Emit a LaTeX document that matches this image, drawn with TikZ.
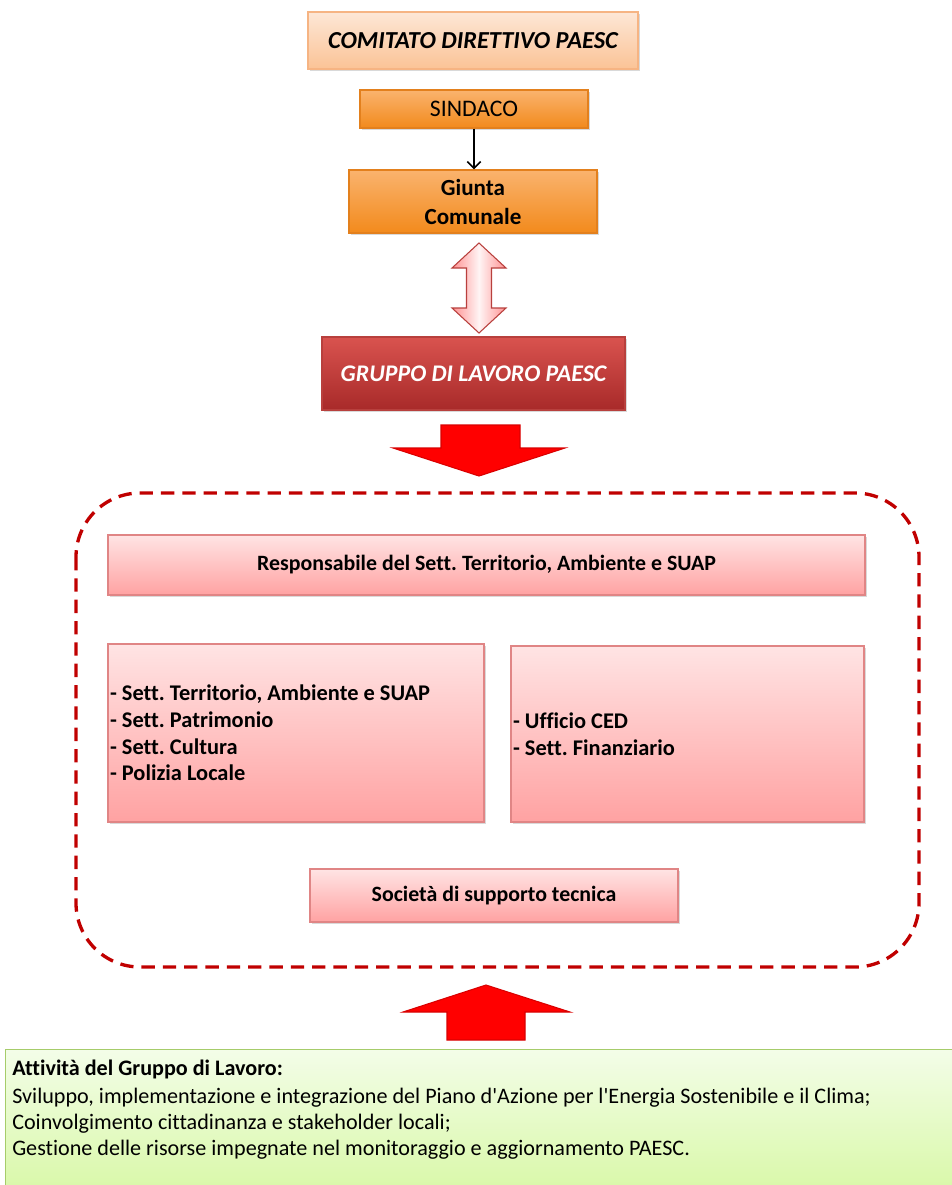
\documentclass[tikz,border=0pt]{standalone}
\usepackage{fontspec}
\setmainfont{Carlito}[Ligatures=NoCommon]
\usetikzlibrary{calc,arrows.meta,shadows}
\frenchspacing

\definecolor{peachtop}{HTML}{FDE7D6}
\definecolor{peachbot}{HTML}{FBC396}
\definecolor{peachline}{HTML}{F6B483}
\definecolor{orangetop}{HTML}{FAB36E}
\definecolor{orangebot}{HTML}{F28A1C}
\definecolor{orangeline}{HTML}{E3801D}
\definecolor{redtop}{HTML}{D9534F}
\definecolor{redbot}{HTML}{A82A29}
\definecolor{redline}{HTML}{B8403D}
\definecolor{pinktop}{HTML}{FFE4E4}
\definecolor{pinkbot}{HTML}{FFA2A2}
\definecolor{pinkline}{HTML}{E08585}
\definecolor{framered}{HTML}{C00000}
\definecolor{greentop}{HTML}{F3FDE8}
\definecolor{greenbot}{HTML}{D8F8A6}
\definecolor{greenline}{HTML}{A6CC6A}

\tikzset{
  box/.style={draw, line width=0.8pt, inner sep=1.5pt,
    drop shadow={opacity=0.3, shadow xshift=1.5pt, shadow yshift=-1.5pt}},
  peachbox/.style={box, draw=peachline, top color=peachtop, bottom color=peachbot,
    font=\bfseries\itshape\fontsize{18.3}{21}\selectfont},
  orangebox/.style={box, draw=orangeline, top color=orangetop, bottom color=orangebot,
    font=\fontsize{17.8}{21.75}\selectfont},
  redbox/.style={box, draw=redline, top color=redtop, bottom color=redbot, text=white,
    font=\bfseries\itshape\fontsize{17.9}{21}\selectfont},
  pinkbox/.style={box, draw=pinkline, top color=pinktop, bottom color=pinkbot,
    font=\bfseries\fontsize{16.4}{20}\selectfont},
  listbox/.style={pinkbox, align=flush left, font=\bfseries\fontsize{16.8}{20}\selectfont},
  greenbox/.style={draw=greenline, line width=0.8pt, top color=greentop, bottom color=greenbot},
  blockarrow/.style={draw=red!85!black, line width=0.8pt, fill=red},
  dblarrow/.style={draw=redline, line width=0.8pt, left color=pinkbot!90!red,
    right color=pinkbot!90!red, middle color=pinktop!40!white},
  frame/.style={draw=framered, line width=2.5pt, dash pattern=on 10pt off 6pt,
    rounded corners=48pt}
}

\begin{document}
\begin{tikzpicture}[x=0.75pt,y=-0.75pt]
  \useasboundingbox (0,0) rectangle (951,1185);

  \node (comitato) [peachbox, minimum width=247.5pt, minimum height=42.75pt] at (473,40.5) {COMITATO DIRETTIVO PAESC};
  \node (sindaco) [orangebox, minimum width=171pt, minimum height=28.5pt] at (474,109) {SINDACO};
  \node (giunta) [orangebox, minimum width=186pt, minimum height=47.25pt, font=\bfseries\fontsize{17.3}{21.75}\selectfont, align=center] at (473,201.5) {Giunta\\Comunale};
  \draw[-{Straight Barb[length=5pt,width=10pt]}, line width=1.3pt] (sindaco.south) -- (sindaco.south |- giunta.north);

  % two-way link giunta / gruppo
  \draw[dblarrow] (479,243) -- (506,268) -- (491.5,268) -- (491.5,308) -- (506,308) -- (479,333)
    -- (452,308) -- (466.5,308) -- (466.5,268) -- (452,268) -- cycle;

  \node (gruppo) [redbox, minimum width=227.25pt, minimum height=54.75pt] at (473.5,373.5) {GRUPPO DI LAVORO PAESC};

  \draw[blockarrow] (441,425) -- (520,425) -- (520,448) -- (565,448) -- (479,476) -- (393,448) -- (441,448) -- cycle;

  % working group
  \draw[frame] (76,493) rectangle (919,967);
  \node (resp) [pinkbox, minimum width=567.75pt, minimum height=45pt] at (486.5,565) {Responsabile del Sett. Territorio, Ambiente e SUAP};
  \node (settori) [listbox, text width=279pt, minimum height=133.5pt] at (296,733)
    {- Sett. Territorio, Ambiente e SUAP\\- Sett. Patrimonio\\- Sett. Cultura\\- Polizia Locale};
  \node (uffici) [listbox, text width=261.75pt, minimum height=132pt] at (687.5,734)
    {- Ufficio CED\\- Sett. Finanziario};
  \node (societa) [pinkbox, minimum width=276pt, minimum height=39.75pt] at (494,895.5) {Società di supporto tecnica};

  \draw[blockarrow] (447,1040) -- (447,1012) -- (403,1012) -- (486,985) -- (570,1012) -- (525,1012) -- (525,1040) -- cycle;

  % activities
  \node (attivita) [greenbox, anchor=north west, minimum width=716pt, minimum height=110pt, inner sep=0] at (5,1049) {};
  \node (testo) [anchor=north west, align=flush left, inner sep=0, font=\fontsize{16.6}{19.5}\selectfont] at (12,1060)
    {\textbf{Attività del Gruppo di Lavoro:}\\[1.5pt]
     Sviluppo, implementazione e integrazione del Piano d\textquotesingle Azione per l\textquotesingle Energia Sostenibile e il Clima;\\
     Coinvolgimento cittadinanza e stakeholder locali;\\
     Gestione delle risorse impegnate nel monitoraggio e aggiornamento PAESC.};
\end{tikzpicture}
\end{document}
